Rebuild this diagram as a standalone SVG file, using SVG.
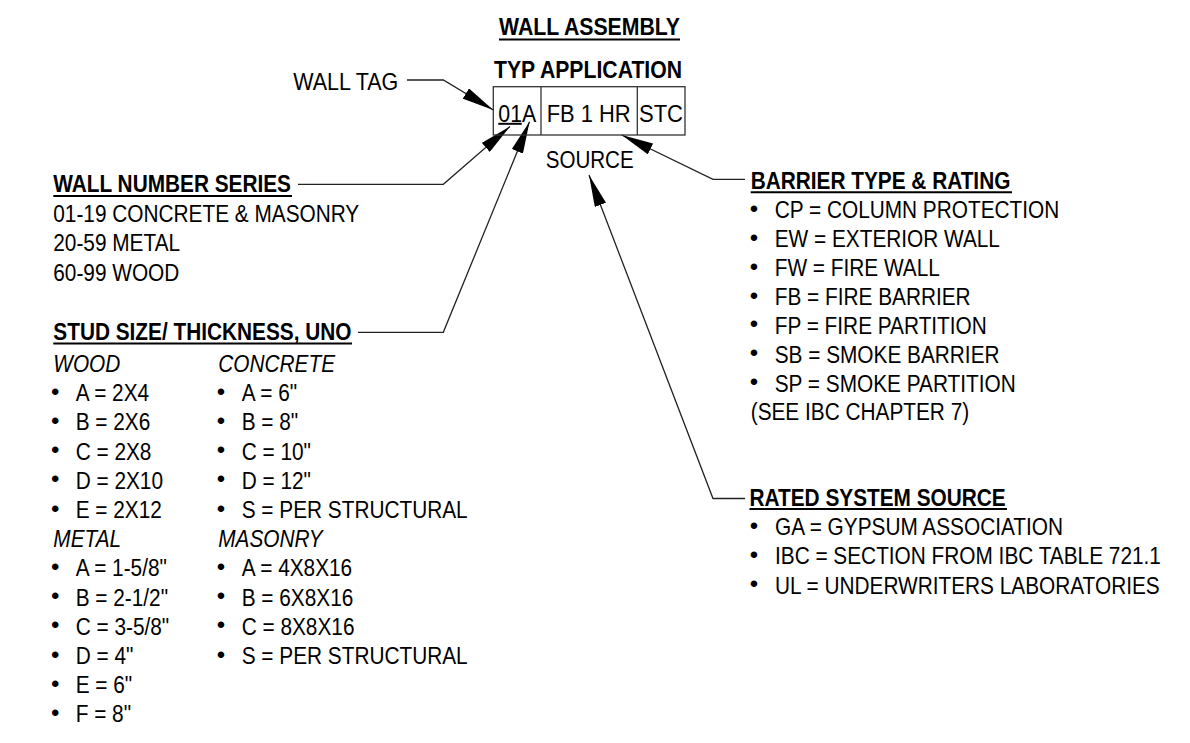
<svg xmlns="http://www.w3.org/2000/svg" width="1190" height="743" viewBox="0 0 1190 743">
<defs>
<style>
text{font-family:"Liberation Sans",Arial,Helvetica,sans-serif;font-size:24px;fill:#000}
.b{font-weight:bold}
.i{font-style:italic}
.bl{font-size:24px;text-anchor:middle}
.ul{stroke:#000;stroke-width:2}
.ld{fill:none;stroke:#222;stroke-width:1.3}
.bx{fill:none;stroke:#333;stroke-width:1.3}
</style>
<marker id="ah" markerUnits="userSpaceOnUse" markerWidth="32" markerHeight="12" viewBox="0 0 32 12" refX="32" refY="6" orient="auto">
<path d="M0,0 L32,6 L0,12 Z" fill="#000"/>
</marker>
</defs>
<rect width="1190" height="743" fill="#fff"/>

<g id="connectors">
<path class="ld" d="M407,80 L443.3,80 L493.3,110" marker-end="url(#ah)"/>
<path class="ld" d="M298,184.3 L443.3,184.3 L510,126.5" marker-end="url(#ah)"/>
<path class="ld" d="M358,332.3 L443.3,332.3 L529.5,121.7" marker-end="url(#ah)"/>
<path class="ld" d="M745,179.3 L713,179.3 L621.7,135" marker-end="url(#ah)"/>
<path class="ld" d="M745,498.5 L713,498.5 L589,175" marker-end="url(#ah)"/>
</g>

<g id="title">
<text class="b" x="499" y="35" textLength="181" lengthAdjust="spacingAndGlyphs">WALL ASSEMBLY</text>
<line class="ul" x1="499" y1="39.5" x2="680" y2="39.5"/>
<text class="b" x="494" y="78" textLength="188" lengthAdjust="spacingAndGlyphs">TYP APPLICATION</text>
</g>

<g id="wall-tag-label">
<text x="293.3" y="90" textLength="105" lengthAdjust="spacingAndGlyphs">WALL TAG</text>
</g>

<g id="wall-tag">
<rect class="bx" x="493.3" y="86.7" width="191.7" height="48.3"/>
<line class="bx" x1="541" y1="86.7" x2="541" y2="135"/>
<line class="bx" x1="637.3" y1="86.7" x2="637.3" y2="135"/>
<text x="498.3" y="121.7" textLength="38" lengthAdjust="spacingAndGlyphs">01A</text>
<line class="ul" x1="498.3" y1="123.8" x2="521.7" y2="123.8"/>
<text x="546.7" y="121.7" textLength="84" lengthAdjust="spacingAndGlyphs">FB 1 HR</text>
<text x="639" y="121.7" textLength="44" lengthAdjust="spacingAndGlyphs">STC</text>
<text x="545.7" y="168.3" textLength="88" lengthAdjust="spacingAndGlyphs">SOURCE</text>
</g>

<g id="wall-number-series">
<g transform="translate(53.3 0) scale(0.867 1)">
<text class="b" x="0" y="192.5">WALL NUMBER SERIES</text>
<text x="0" y="221.8">01-19 CONCRETE &amp; MASONRY</text>
<text x="0" y="251.2">20-59 METAL</text>
<text x="0" y="280.6">60-99 WOOD</text>
</g>
<line class="ul" x1="53.3" y1="196" x2="292" y2="196"/>
</g>

<g id="stud-size">
<g transform="translate(53.3 0) scale(0.867 1)">
<text class="b" x="0" y="340">STUD SIZE/ THICKNESS, UNO</text>
<text class="i" x="0" y="372">WOOD</text>
<text x="25.8" y="401.2">A = 2X4</text>
<text x="25.8" y="430.4">B = 2X6</text>
<text x="25.8" y="459.6">C = 2X8</text>
<text x="25.8" y="488.8">D = 2X10</text>
<text x="25.8" y="518">E = 2X12</text>
<text class="i" x="0" y="547.2">METAL</text>
<text x="25.8" y="576.4">A = 1-5/8"</text>
<text x="25.8" y="605.6">B = 2-1/2"</text>
<text x="25.8" y="634.8">C = 3-5/8"</text>
<text x="25.8" y="664">D = 4"</text>
<text x="25.8" y="693.2">E = 6"</text>
<text x="25.8" y="722.4">F = 8"</text>
<text class="i" x="190.3" y="372">CONCRETE</text>
<text x="217.3" y="401.2">A = 6"</text>
<text x="217.3" y="430.4">B = 8"</text>
<text x="217.3" y="459.6">C = 10"</text>
<text x="217.3" y="488.8">D = 12"</text>
<text x="217.3" y="518">S = PER STRUCTURAL</text>
<text class="i" x="190.3" y="547.2">MASONRY</text>
<text x="217.3" y="576.4">A = 4X8X16</text>
<text x="217.3" y="605.6">B = 6X8X16</text>
<text x="217.3" y="634.8">C = 8X8X16</text>
<text x="217.3" y="664">S = PER STRUCTURAL</text>
</g>
<line class="ul" x1="53.3" y1="343.5" x2="352" y2="343.5"/>
<text class="bl" x="55.3" y="399.7">•</text>
<text class="bl" x="55.3" y="428.9">•</text>
<text class="bl" x="55.3" y="458.1">•</text>
<text class="bl" x="55.3" y="487.3">•</text>
<text class="bl" x="55.3" y="516.5">•</text>
<text class="bl" x="55.3" y="574.9">•</text>
<text class="bl" x="55.3" y="604.1">•</text>
<text class="bl" x="55.3" y="633.3">•</text>
<text class="bl" x="55.3" y="662.5">•</text>
<text class="bl" x="55.3" y="691.7">•</text>
<text class="bl" x="55.3" y="720.9">•</text>
<text class="bl" x="221" y="399.7">•</text>
<text class="bl" x="221" y="428.9">•</text>
<text class="bl" x="221" y="458.1">•</text>
<text class="bl" x="221" y="487.3">•</text>
<text class="bl" x="221" y="516.5">•</text>
<text class="bl" x="221" y="574.9">•</text>
<text class="bl" x="221" y="604.1">•</text>
<text class="bl" x="221" y="633.3">•</text>
<text class="bl" x="221" y="662.5">•</text>
</g>

<g id="barrier-type">
<g transform="translate(750.7 0) scale(0.867 1)">
<text class="b" x="0" y="189.3">BARRIER TYPE &amp; RATING</text>
<text x="27.7" y="218.5">CP = COLUMN PROTECTION</text>
<text x="27.7" y="247.4">EW = EXTERIOR WALL</text>
<text x="27.7" y="276.2">FW = FIRE WALL</text>
<text x="27.7" y="305.1">FB = FIRE BARRIER</text>
<text x="27.7" y="333.9">FP = FIRE PARTITION</text>
<text x="27.7" y="362.8">SB = SMOKE BARRIER</text>
<text x="27.7" y="391.6">SP = SMOKE PARTITION</text>
<text x="0" y="420.5">(SEE IBC CHAPTER 7)</text>
</g>
<line class="ul" x1="750.7" y1="192.3" x2="1012" y2="192.3"/>
<text class="bl" x="754" y="217">•</text>
<text class="bl" x="754" y="245.9">•</text>
<text class="bl" x="754" y="274.7">•</text>
<text class="bl" x="754" y="303.6">•</text>
<text class="bl" x="754" y="332.4">•</text>
<text class="bl" x="754" y="361.3">•</text>
<text class="bl" x="754" y="390.1">•</text>
</g>

<g id="rated-system-source">
<g transform="translate(749.5 0) scale(0.867 1)">
<text class="b" x="0" y="506">RATED SYSTEM SOURCE</text>
<text x="29.4" y="535.2">GA = GYPSUM ASSOCIATION</text>
<text x="29.4" y="564.4">IBC = SECTION FROM IBC TABLE 721.1</text>
<text x="29.4" y="593.6">UL = UNDERWRITERS LABORATORIES</text>
</g>
<line class="ul" x1="749.5" y1="509" x2="1007" y2="509"/>
<text class="bl" x="754" y="533.7">•</text>
<text class="bl" x="754" y="562.9">•</text>
<text class="bl" x="754" y="592.1">•</text>
</g>
</svg>
